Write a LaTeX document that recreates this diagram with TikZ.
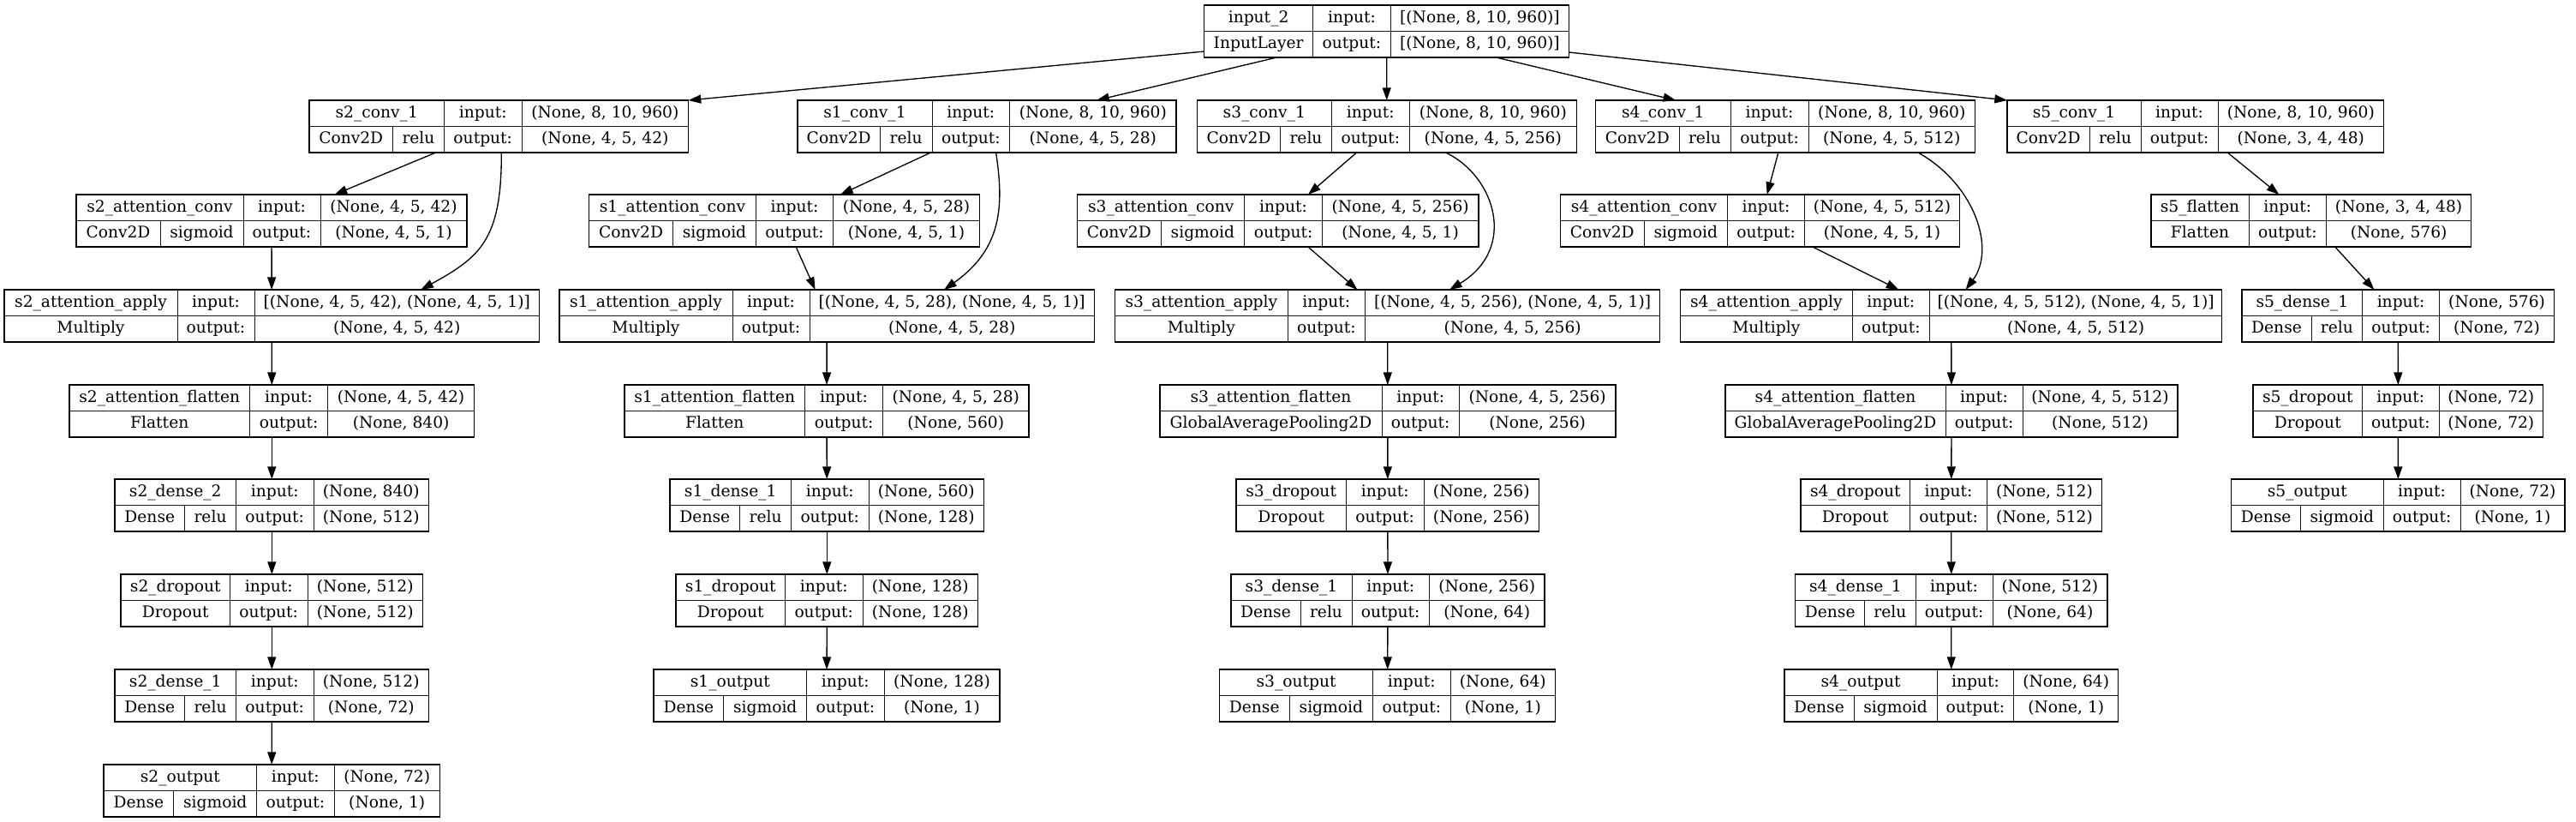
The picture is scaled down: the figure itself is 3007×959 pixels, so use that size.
\documentclass[tikz,border=0pt]{standalone}
\usepackage{fontspec}
\setmainfont{DejaVu Serif}
\usetikzlibrary{arrows.meta,calc,fit}
\definecolor{Ink}{HTML}{000000}
\definecolor{Cell}{HTML}{1A1A1A}
\tikzset{
  kbox/.style={draw=Ink,line width=1.1pt,inner sep=0pt,outer sep=0pt},
  kcell/.style={draw=Cell,line width=.75pt},
  ktext/.style={inner sep=0pt,text height=11pt,text depth=3.5pt,font=\fontsize{14}{17}\selectfont},
  edge/.style={-{Triangle[length=11pt,width=7.5pt]},draw=Ink,line width=1pt}
}
% geometry: top y / left x / activation split / name split / input split / right x
\def\kparse#1/#2/#3/#4/#5/#6\relax{\def\ky{#1}\def\kl{#2}\def\kact{#3}\def\ksa{#4}\def\ksb{#5}\def\kr{#6}}
% id, geometry, name, class, activation, input shape, output shape
\newcommand{\klayer}[7]{%
  \kparse#2\relax
  \draw[kcell] (\kl,\ky+30.5) -- (\kr,\ky+30.5)
    (\ksa,\ky) -- (\ksa,\ky+61) (\ksb,\ky) -- (\ksb,\ky+61);
  \node[kbox,fit={(\kl,\ky) (\kr,\ky+61)}] (#1) {};
  \node[ktext] (#1-name) at ({(\kl+\ksa)/2},\ky+15.25) {#3};
  \node[ktext] (#1-in) at ({(\ksa+\ksb)/2},\ky+15.25) {input:};
  \node[ktext] (#1-inval) at ({(\ksb+\kr)/2},\ky+15.25) {#6};
  \node[ktext] (#1-out) at ({(\ksa+\ksb)/2},\ky+45.75) {output:};
  \node[ktext] (#1-outval) at ({(\ksb+\kr)/2},\ky+45.75) {#7};
  \if\relax\detokenize{#5}\relax
    \node[ktext] (#1-cls) at ({(\kl+\ksa)/2},\ky+45.75) {#4};
  \else
    \draw[kcell] (\kact,\ky+30.5) -- (\kact,\ky+61);
    \node[ktext] (#1-cls) at ({(\kl+\kact)/2},\ky+45.75) {#4};
    \node[ktext] (#1-act) at ({(\kact+\ksa)/2},\ky+45.75) {#5};
  \fi}

\begin{document}
\begin{tikzpicture}[x=.75pt,y=-.75pt]
  \fill[white] (0,0) rectangle (3007,959);
  \useasboundingbox (0,0) rectangle (3007,959);

  % input
  \klayer{input2}{6/1405.6/0/1532.6/1623.3/1831.6}{input\_2}{InputLayer}{}{[(None, 8, 10, 960)]}{[(None, 8, 10, 960)]}

  % first convolutions
  \klayer{s2conv1}{117/361/458.5/518.5/609/803.6}{s2\_conv\_1}{Conv2D}{relu}{(None, 8, 10, 960)}{(None, 4, 5, 42)}
  \klayer{s1conv1}{117/931/1027.4/1088/1178.6/1373}{s1\_conv\_1}{Conv2D}{relu}{(None, 8, 10, 960)}{(None, 4, 5, 28)}
  \klayer{s3conv1}{117/1397.3/1494.7/1554.3/1645.3/1840.3}{s3\_conv\_1}{Conv2D}{relu}{(None, 8, 10, 960)}{(None, 4, 5, 256)}
  \klayer{s4conv1}{117/1862.5/1960/2020/2111/2305.5}{s4\_conv\_1}{Conv2D}{relu}{(None, 8, 10, 960)}{(None, 4, 5, 512)}
  \klayer{s5conv1}{117/2343/2439/2499/2589/2782.5}{s5\_conv\_1}{Conv2D}{relu}{(None, 8, 10, 960)}{(None, 3, 4, 48)}

  % attention convolutions
  \klayer{s2attconv}{227/89/187/284/374/545}{s2\_attention\_conv}{Conv2D}{sigmoid}{(None, 4, 5, 42)}{(None, 4, 5, 1)}
  \klayer{s1attconv}{227/687.5/785.5/882.5/972.5/1143.5}{s1\_attention\_conv}{Conv2D}{sigmoid}{(None, 4, 5, 28)}{(None, 4, 5, 1)}
  \klayer{s3attconv}{227/1257.7/1355/1452.8/1543.4/1725.8}{s3\_attention\_conv}{Conv2D}{sigmoid}{(None, 4, 5, 256)}{(None, 4, 5, 1)}
  \klayer{s4attconv}{227/1821.4/1919/2016.6/2106.5/2287.6}{s4\_attention\_conv}{Conv2D}{sigmoid}{(None, 4, 5, 512)}{(None, 4, 5, 1)}
  \klayer{s5flatten}{227/2511/0/2625/2715.6/2884.6}{s5\_flatten}{Flatten}{}{(None, 3, 4, 48)}{(None, 576)}

  % attention apply
  \klayer{s2attapply}{338/5/0/207/297/629.5}{s2\_attention\_apply}{Multiply}{}{[(None, 4, 5, 42), (None, 4, 5, 1)]}{(None, 4, 5, 42)}
  \klayer{s1attapply}{338/653/0/855/945/1277.4}{s1\_attention\_apply}{Multiply}{}{[(None, 4, 5, 28), (None, 4, 5, 1)]}{(None, 4, 5, 28)}
  \klayer{s3attapply}{338/1301.7/0/1503/1593.7/1937.5}{s3\_attention\_apply}{Multiply}{}{[(None, 4, 5, 256), (None, 4, 5, 1)]}{(None, 4, 5, 256)}
  \klayer{s4attapply}{338/1961.7/0/2162/2252.5/2593.7}{s4\_attention\_apply}{Multiply}{}{[(None, 4, 5, 512), (None, 4, 5, 1)]}{(None, 4, 5, 512)}
  \klayer{s5dense1}{338/2617/2698/2757.6/2847.6/2981.5}{s5\_dense\_1}{Dense}{relu}{(None, 576)}{(None, 72)}

  % attention flatten
  \klayer{s2attflatten}{449/81/0/291.5/382.6/553.6}{s2\_attention\_flatten}{Flatten}{}{(None, 4, 5, 42)}{(None, 840)}
  \klayer{s1attflatten}{449/729/0/939.5/1030.6/1201}{s1\_attention\_flatten}{Flatten}{}{(None, 4, 5, 28)}{(None, 560)}
  \klayer{s3attflatten}{449/1354/0/1613/1703.4/1885.8}{s3\_attention\_flatten}{GlobalAveragePooling2D}{}{(None, 4, 5, 256)}{(None, 256)}
  \klayer{s4attflatten}{449/2014/0/2271/2361/2542}{s4\_attention\_flatten}{GlobalAveragePooling2D}{}{(None, 4, 5, 512)}{(None, 512)}
  \klayer{s5dropout}{449/2630/0/2757.6/2847/2968.7}{s5\_dropout}{Dropout}{}{(None, 72)}{(None, 72)}

  % heads
  \klayer{s2dense2}{559/134/215.6/275.5/366/500.6}{s2\_dense\_2}{Dense}{relu}{(None, 840)}{(None, 512)}
  \klayer{s1dense1}{559/782/863.6/923.5/1014/1148.6}{s1\_dense\_1}{Dense}{relu}{(None, 560)}{(None, 128)}
  \klayer{s3dropout}{559/1443/0/1571.4/1662/1796.6}{s3\_dropout}{Dropout}{}{(None, 256)}{(None, 256)}
  \klayer{s4dropout}{559/2102/0/2229.6/2319.5/2453.4}{s4\_dropout}{Dropout}{}{(None, 512)}{(None, 512)}
  \klayer{s5output}{559/2604.6/2685.6/2782/2872/2994}{s5\_output}{Dense}{sigmoid}{(None, 72)}{(None, 1)}

  \klayer{s2dropout}{670/141/0/268.5/359/493.6}{s2\_dropout}{Dropout}{}{(None, 512)}{(None, 512)}
  \klayer{s1dropout}{670/789/0/916.5/1007/1141.6}{s1\_dropout}{Dropout}{}{(None, 128)}{(None, 128)}
  \klayer{s3dense1}{670/1437/1518/1578/1668.4/1803}{s3\_dense\_1}{Dense}{relu}{(None, 256)}{(None, 64)}
  \klayer{s4dense1}{670/2095.7/2176.7/2236/2326/2459.8}{s4\_dense\_1}{Dense}{relu}{(None, 512)}{(None, 64)}

  \klayer{s2dense1}{781/134/215.6/275.5/366/500.6}{s2\_dense\_1}{Dense}{relu}{(None, 512)}{(None, 72)}
  \klayer{s1output}{781/763/844.8/941.7/1032/1167}{s1\_output}{Dense}{sigmoid}{(None, 128)}{(None, 1)}
  \klayer{s3output}{781/1423.5/1505/1602.7/1693/1815.7}{s3\_output}{Dense}{sigmoid}{(None, 64)}{(None, 1)}
  \klayer{s4output}{781/2083/2164/2261/2350.8/2472.6}{s4\_output}{Dense}{sigmoid}{(None, 64)}{(None, 1)}

  \klayer{s2output}{892/121/202.8/299.7/390/513.4}{s2\_output}{Dense}{sigmoid}{(None, 72)}{(None, 1)}

  % connectors
  \draw[edge] ($(input2.south west)+(0,-7)$) -- (s2conv1.north east);
  \draw[edge] ($(input2.south east)+(0,-6)$) -- (s5conv1.north west);
  \foreach \a/\b in {input2/s1conv1,input2/s3conv1,input2/s4conv1,
      s2conv1/s2attconv,s2attconv/s2attapply,s2attapply/s2attflatten,s2attflatten/s2dense2,s2dense2/s2dropout,s2dropout/s2dense1,s2dense1/s2output,
      s1conv1/s1attconv,s1attconv/s1attapply,s1attapply/s1attflatten,s1attflatten/s1dense1,s1dense1/s1dropout,s1dropout/s1output,
      s3conv1/s3attconv,s3attconv/s3attapply,s3attapply/s3attflatten,s3attflatten/s3dropout,s3dropout/s3dense1,s3dense1/s3output,
      s4conv1/s4attconv,s4attconv/s4attapply,s4attapply/s4attflatten,s4attflatten/s4dropout,s4dropout/s4dense1,s4dense1/s4output,
      s5conv1/s5flatten,s5flatten/s5dense1,s5dense1/s5dropout,s5dropout/s5output}
    \draw[edge] (\a) -- (\b);

  % skip connections into the multiply layers
  \draw[edge] ($(s2conv1.south)+(3,0)$) .. controls +(.5,102) and +(69,-38) .. ($(s2attapply.north)+(174,0)$);
  \draw[edge] ($(s1conv1.south)+(10.6,0)$) .. controls +(9.4,62) and +(68,-48) .. ($(s1attapply.north)+(136.8,0)$);
  \draw[edge] ($(s3conv1.south)+(68.7,0)$) .. controls +(57.5,27) and +(80,-48) .. ($(s3attapply.north)+(72.4,0)$);
  \draw[edge] ($(s4conv1.south)+(155,0)$) .. controls +(66,37) and +(35.4,-48) .. ($(s4attapply.north)+(16.9,0)$);
\end{tikzpicture}
\end{document}
